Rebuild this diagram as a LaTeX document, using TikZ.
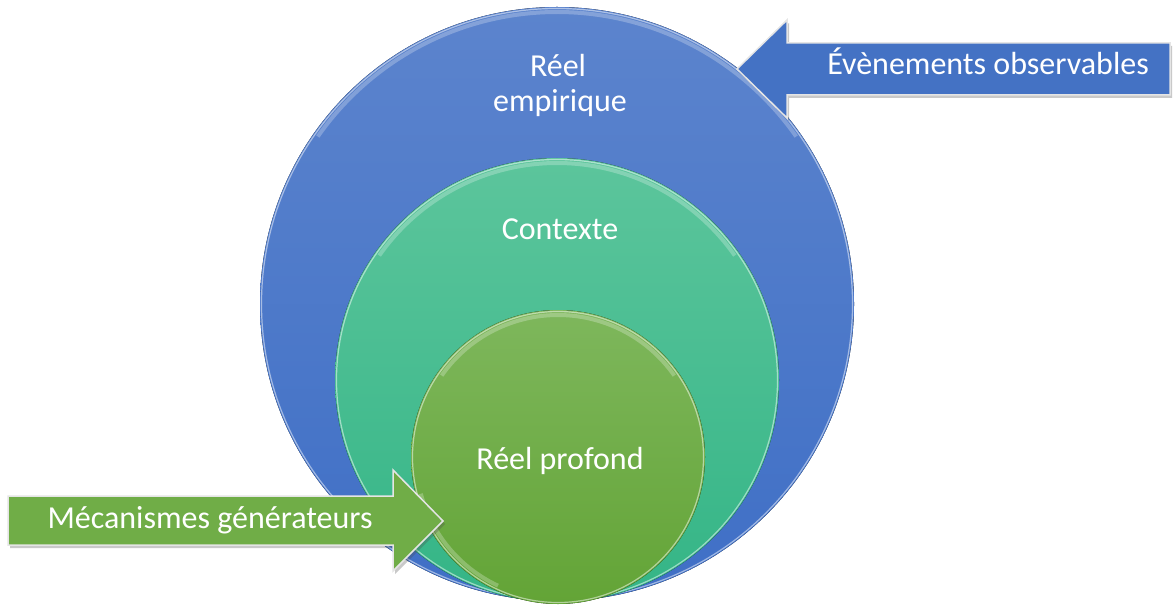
\documentclass[tikz,border=0pt]{standalone}
\usepackage{fontspec}
\setmainfont{Carlito}
\usetikzlibrary{shadows}
\definecolor{blueA}{HTML}{5C84CD}
\definecolor{blueB}{HTML}{3F6FC6}
\definecolor{tealA}{HTML}{5CC59C}
\definecolor{tealB}{HTML}{34B586}
\definecolor{grnA}{HTML}{7EB75C}
\definecolor{grnB}{HTML}{63A436}
\definecolor{arrB}{HTML}{4472C4}
\definecolor{arrG}{HTML}{70AD47}
\tikzset{
  lbl/.style={text=white, font=\fontsize{32}{35}\selectfont, anchor=base, inner sep=0pt},
  rim/.style={white, opacity=0.5, line width=1.2pt},
  gloss/.style={white, opacity=0.25, line width=4pt},
  arrowshape/.style={draw=black!10, line width=1.5pt, line join=miter,
    drop shadow={opacity=0.3, shadow xshift=2pt, shadow yshift=-3pt, fill=black!70}},
}
\begin{document}
\begin{tikzpicture}[x=1pt,y=-1pt]
\useasboundingbox (0,0) rectangle (1174,609);
% outer circle
\fill[top color=blueA, bottom color=blueB] (557,304) circle (297);
\draw[rim] (557,304) circle (295.5);
\draw[gloss] (557,304) ++(215:292) arc (215:325:292);
% middle circle
\fill[top color=tealA, bottom color=tealB] (557,380) circle (222);
\draw[rim] (557,380) circle (220.5);
\draw[gloss] (557,380) ++(215:217) arc (215:325:217);
% inner circle
\fill[top color=grnA, bottom color=grnB] (558,457) circle (147);
\draw[rim] (558,457) circle (145.5);
\draw[gloss] (558,457) ++(215:142) arc (215:325:142);
\draw[gloss] (558,457) ++(115:142) arc (115:165:142);
% arrows
\filldraw[arrowshape, fill=arrB] (1170,43) -- (787,43) -- (787,20) -- (737,69) -- (787,118) -- (787,95) -- (1170,95) -- cycle;
\filldraw[arrowshape, fill=arrG] (8,496) -- (393,496) -- (393,470) -- (443,521) -- (393,571) -- (393,545) -- (8,545) -- cycle;
% labels
\node[lbl] (reel1) at (558,77) {Réel};
\node[lbl] (reel2) at (560,112) {empirique};
\node[lbl] (ctx) at (560,240) {Contexte};
\node[lbl] (prof) at (560,469) {Réel profond};
\node[lbl] (evt) at (988,75) {Évènements observables};
\node[lbl] (mec) at (210,528) {Mécanismes générateurs};
\end{tikzpicture}
\end{document}
